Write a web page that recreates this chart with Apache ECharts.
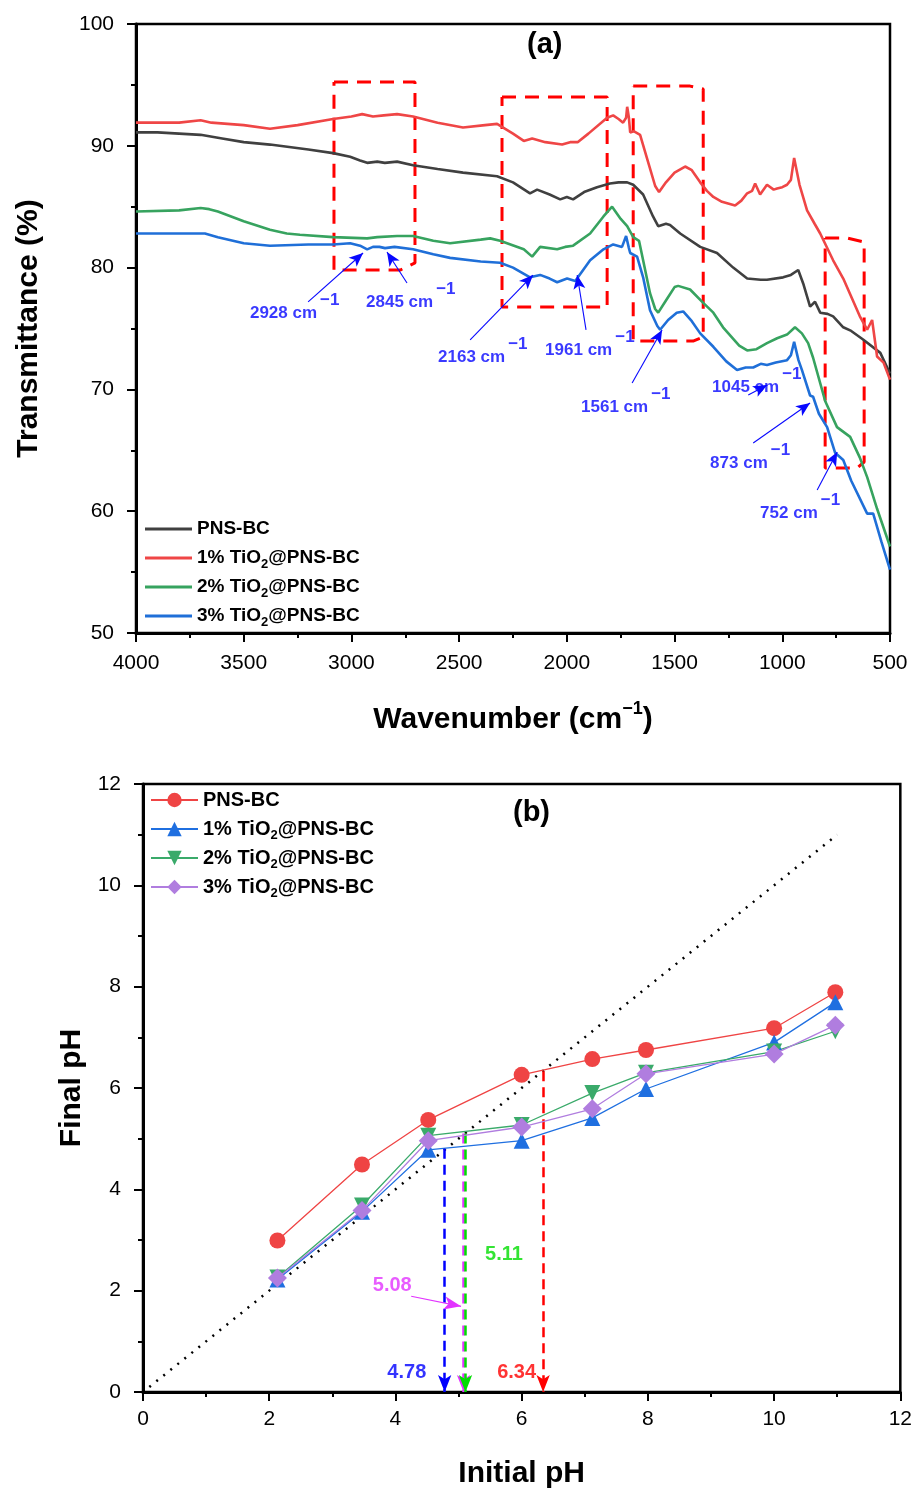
<!DOCTYPE html>
<html><head><meta charset="utf-8">
<script src="https://cdn.jsdelivr.net/npm/echarts@6/dist/echarts.min.js"></script>
<style>html,body{margin:0;padding:0;background:#fff}#c{width:915px;height:1490px}</style>
</head><body><div id="c"></div>
<script>
const FONT = "'Liberation Sans', Arial, Helvetica, sans-serif";

// ---------- DATA ----------
const seriesNames = ['PNS-BC', '1% TiO2@PNS-BC', '2% TiO2@PNS-BC', '3% TiO2@PNS-BC'];

// (a) FTIR spectra: [wavenumber (cm-1), transmittance (%)]
const ftirPNS = [[4000,91.1],[3900,91.1],[3800,91.0],[3700,90.9],[3600,90.6],[3500,90.3],[3378,90.1],[3200,89.7],[3085,89.4],[3006,89.1],[2960,88.8],[2927,88.6],[2880,88.7],[2845,88.6],[2788,88.7],[2714,88.4],[2600,88.1],[2482,87.8],[2324,87.5],[2250,87.0],[2171,86.1],[2138,86.4],[2080,86.0],[2031,85.6],[2000,85.8],[1971,85.6],[1920,86.2],[1860,86.6],[1800,86.9],[1760,87.0],[1720,87.0],[1692,86.8],[1646,86.0],[1600,84.2],[1576,83.4],[1540,83.6],[1521,83.5],[1474,82.8],[1381,81.7],[1303,81.2],[1228,80.0],[1163,79.1],[1100,79.0],[1071,79.0],[996,79.2],[960,79.4],[926,79.8],[903,78.7],[871,76.8],[848,77.2],[824,76.3],[790,76.2],[764,76.0],[717,75.1],[680,74.8],[625,74.1],[545,73.0],[500,71.3]];
const ftir1 = [[4000,91.9],[3800,91.9],[3700,92.1],[3650,91.9],[3500,91.7],[3378,91.4],[3250,91.7],[3085,92.2],[3000,92.4],[2950,92.6],[2900,92.4],[2850,92.5],[2788,92.6],[2714,92.4],[2600,91.9],[2482,91.5],[2380,91.7],[2324,91.8],[2250,91.0],[2200,90.4],[2161,90.6],[2100,90.3],[2022,90.1],[1985,90.3],[1950,90.3],[1900,91.0],[1813,92.3],[1785,92.5],[1760,92.2],[1739,91.9],[1725,92.3],[1720,93.2],[1712,92.3],[1706,91.1],[1690,91.2],[1660,90.9],[1620,88.5],[1590,86.7],[1572,86.2],[1540,87.0],[1500,87.8],[1451,88.3],[1420,88.0],[1381,87.0],[1350,86.3],[1320,85.8],[1280,85.4],[1219,85.1],[1190,85.5],[1163,86.1],[1140,86.3],[1126,86.9],[1103,86.0],[1071,86.8],[1040,86.4],[1024,86.5],[1000,86.6],[978,86.8],[960,87.2],[945,89.0],[920,86.8],[885,84.7],[850,83.6],[824,82.8],[764,80.6],[717,79.1],[640,76.0],[606,74.9],[583,75.7],[560,72.7],[530,72.2],[500,70.8]];
const ftir2 = [[4000,84.6],[3800,84.7],[3700,84.9],[3660,84.8],[3620,84.6],[3500,83.8],[3378,83.1],[3300,82.8],[3239,82.7],[3085,82.5],[2927,82.4],[2880,82.5],[2788,82.6],[2714,82.6],[2620,82.2],[2542,82.0],[2400,82.3],[2356,82.4],[2310,82.2],[2200,81.5],[2161,80.9],[2124,81.7],[2045,81.5],[2008,81.7],[1971,81.8],[1892,82.8],[1830,84.2],[1790,85.0],[1750,84.0],[1720,83.4],[1692,82.5],[1665,82.2],[1646,80.6],[1614,77.9],[1590,76.6],[1576,76.3],[1540,77.3],[1500,78.4],[1483,78.5],[1428,78.2],[1367,77.1],[1320,76.3],[1275,75.1],[1200,73.6],[1163,73.2],[1120,73.3],[1071,73.8],[1024,74.2],[978,74.5],[941,75.1],[909,74.6],[880,73.8],[857,72.6],[800,69.0],[746,66.9],[685,66.1],[640,64.4],[606,62.8],[560,60.2],[500,57.1]];
const ftir3 = [[4000,82.8],[3800,82.8],[3700,82.8],[3680,82.8],[3620,82.5],[3500,82.0],[3378,81.8],[3200,81.9],[3085,81.9],[3006,82.0],[2960,81.8],[2927,81.5],[2900,81.7],[2870,81.7],[2844,81.6],[2800,81.7],[2714,81.5],[2620,81.1],[2542,80.8],[2400,80.5],[2310,80.4],[2250,80.0],[2171,79.2],[2124,79.4],[2080,79.1],[2045,78.8],[1999,79.1],[1961,78.9],[1892,80.6],[1830,81.5],[1785,81.9],[1744,81.7],[1725,82.6],[1712,81.6],[1706,81.2],[1674,80.9],[1646,79.2],[1614,76.5],[1580,75.2],[1567,74.9],[1530,75.7],[1490,76.3],[1460,76.4],[1420,75.6],[1381,74.6],[1320,73.5],[1260,72.3],[1210,71.6],[1170,71.8],[1135,71.8],[1100,72.1],[1071,72.0],[1030,72.2],[978,72.4],[960,72.8],[945,73.9],[925,72.4],[909,71.6],[871,69.5],[857,69.4],[830,68.0],[792,66.9],[755,64.8],[717,64.2],[680,62.5],[606,59.8],[578,59.8],[540,57.5],[500,55.2]];

// (a) annotation boxes (dashed) in data coordinates
const ftirBoxes = [
  [[3081,95.24],[2705,95.24],[2705,80.38],[2774,79.8],[3081,79.8],[3081,95.24]],
  [[2301,94.0],[1813,94.0],[1813,76.77],[2301,76.77],[2301,94.0]],
  [[1692,94.9],[1428,94.9],[1367,94.66],[1367,74.3],[1414,73.97],[1692,73.97],[1692,94.9]],
  [[801,82.43],[699,82.43],[620,82.1],[620,64.04],[652,63.55],[801,63.55],[801,82.43]]
];
// (a) peak labels and arrows: [from wn, from T, to wn, to T]
const peakLabels = ['2928 cm', '2845 cm', '2163 cm', '1961 cm', '1561 cm', '1045 cm', '873 cm', '752 cm'];
const peakLabelAnchors = [[3471,76.27],[2932,77.18],[2598,72.66],[2101,73.23],[1934,68.56],[1326,70.2],[1335,63.96],[1103,59.85]];
const peakArrows = [[3201,77.18,2946,81.2],[2742,78.74,2835,81.28],[2449,74.06,2157,79.39],[1911,74.88,1952,79.39],[1697,70.53,1558,74.88],[1158,69.54,1070,70.36],[1135,65.6,871,68.88],[838,61.74,745,64.86]];

// (b) pH drift data
const initialPH = [2.13, 3.47, 4.52, 6.0, 7.12, 7.97, 10.0, 10.97];
const finalPNS  = [2.99, 4.49, 5.37, 6.26, 6.57, 6.75, 7.18, 7.89];
const final1    = [2.22, 3.56, 4.78, 4.96, 5.41, 5.98, 6.90, 7.69];
const final2    = [2.26, 3.68, 5.06, 5.27, 5.90, 6.30, 6.72, 7.12];
const final3    = [2.25, 3.58, 4.96, 5.23, 5.59, 6.28, 6.67, 7.24];
const identityLine = [[0.1, 0.1], [11, 11]];
const pzcValues = [4.78, 5.08, 5.11, 6.34];
const pzcTops   = [4.80, 5.10, 5.10, 6.33];
const pzcLabelText = ['4.78', '5.08', '5.11', '6.34'];
const pzcLabelAnchors = [[4.18,0.39],[3.95,2.10],[5.72,2.71],[5.92,0.39]];
const pzc508Arrow = [4.25, 1.89, 5.04, 1.69];

// ---------- STYLE ----------
const ftirColors = ['#404040', '#ef4646', '#37a35f', '#1f6fd8'];
const phColors = ['#ef4444', '#1f6fe0', '#3aaa6a', '#b07ddf'];
const pzcColors = ['#0000ff', '#e233ff', '#00dd00', '#ff0000'];
const phSymbols = ['circle', 'triangle', 'path://M0,0 L10,0 L5,9 Z', 'diamond'];
const phSymbolSizes = [16, 16, 16, 19];
const annBlue = '#0808ff';

const richName = n => n.replace('TiO2', 'TiO{sub|2}');

const axisCommon = (extra) => Object.assign({
  type: 'value',
  splitLine: { show: false },
  axisLine: { show: true, onZero: false, lineStyle: { color: '#000', width: 3 } },
  axisTick: { show: true, inside: false, length: 9, lineStyle: { color: '#000', width: 2 } },
  minorTick: { show: true, splitNumber: 2, length: 5, lineStyle: { color: '#000', width: 2 } },
  nameLocation: 'middle',
  nameTextStyle: { color: '#000', fontSize: 30, fontWeight: 'bold', fontFamily: FONT }
}, extra);
const tickLabel = (margin) => ({ color: '#000', fontSize: 21, fontFamily: FONT, margin: margin,
  showMinLabel: true, showMaxLabel: true, formatter: v => String(v) });

const series = [];
const ftirData = [ftirPNS, ftir1, ftir2, ftir3];
ftirData.forEach((d, i) => series.push({
  name: 'a:' + seriesNames[i], type: 'line', xAxisIndex: 0, yAxisIndex: 0,
  data: d, symbol: 'none', smooth: false,
  lineStyle: { color: ftirColors[i], width: 2.6 }, itemStyle: { color: ftirColors[i] }, z: 3
}));
ftirBoxes.forEach(b => series.push({
  type: 'line', xAxisIndex: 0, yAxisIndex: 0, data: b, symbol: 'none', silent: true,
  lineStyle: { color: '#ff0000', width: 3, type: [14, 9] }, z: 2
}));
series.push({
  type: 'scatter', xAxisIndex: 0, yAxisIndex: 0, symbolSize: 0, silent: true, z: 5,
  data: peakLabelAnchors.map((p, i) => [p[0], p[1], peakLabels[i]]),
  label: {
    show: true, position: 'right', distance: 0,
    formatter: p => '{a|' + p.data[2] + '}{s|−1}',
    rich: {
      a: { fontSize: 17, fontWeight: 'bold', color: annBlue, fontFamily: FONT, lineHeight: 42, verticalAlign: 'middle' },
      s: { fontSize: 17, fontWeight: 'bold', color: annBlue, fontFamily: FONT, verticalAlign: 'top', padding: [0, 0, 0, 3] }
    }
  },
  markLine: {
    silent: true, animation: false, symbol: ['none', 'arrow'], symbolSize: [9, 14],
    label: { show: false }, lineStyle: { color: annBlue, width: 1.1, type: 'solid' },
    data: peakArrows.map(a => [{ coord: [a[0], a[1]] }, { coord: [a[2], a[3]] }])
  }
});

// (b)
const phFinals = [finalPNS, final1, final2, final3];
phFinals.forEach((f, i) => series.push({
  name: 'b:' + seriesNames[i], type: 'line', xAxisIndex: 1, yAxisIndex: 1,
  data: initialPH.map((x, k) => [x, f[k]]),
  symbol: phSymbols[i], symbolSize: phSymbolSizes[i], showSymbol: true,
  lineStyle: { color: phColors[i], width: 1.3 }, itemStyle: { color: phColors[i] }, z: 4 + (i === 3 ? 1 : 0)
}));
series.push({
  type: 'line', xAxisIndex: 1, yAxisIndex: 1, data: identityLine, symbol: 'none', silent: true,
  lineStyle: { color: '#000', width: 2.5, type: [2, 7] }, z: 2
});
series.push({
  type: 'scatter', xAxisIndex: 1, yAxisIndex: 1, symbolSize: 0, silent: true, z: 6,
  data: pzcLabelAnchors.map((p, i) => ({ value: [p[0], p[1]], label: { color: pzcColors[i] }, name: pzcLabelText[i] })),
  label: { show: true, position: 'inside', formatter: p => p.name, fontSize: 20, fontWeight: 'bold', fontFamily: FONT },
  markLine: {
    silent: true, animation: false, symbol: ['none', 'arrow'], symbolSize: [10, 17],
    label: { show: false },
    data: pzcValues.map((v, i) => [
      { coord: [v, pzcTops[i]], lineStyle: { color: pzcColors[i], width: 2.5, type: [10, 6] } },
      { coord: [v, 0] }
    ]).concat([[
      { coord: [pzc508Arrow[0], pzc508Arrow[1]], lineStyle: { color: pzcColors[1], width: 1.2, type: 'solid' } },
      { coord: [pzc508Arrow[2], pzc508Arrow[3]] }
    ]])
  }
});

const legendText = { fontSize: 19, fontWeight: 'bold', color: '#000', fontFamily: FONT, lineHeight: 26,
  rich: { sub: { fontSize: 13, fontWeight: 'bold', color: '#000', fontFamily: FONT, verticalAlign: 'bottom' } } };

const option = {
  animation: false,
  backgroundColor: '#fff',
  grid: [
    { left: 136, top: 24, width: 754, height: 609, show: true, borderColor: '#000', borderWidth: 2.5, backgroundColor: 'transparent' },
    { left: 143, top: 784, width: 760, height: 610, show: true, borderColor: '#000', borderWidth: 2.5, backgroundColor: 'transparent' }
  ],
  xAxis: [
    axisCommon({ gridIndex: 0, min: 500, max: 4000, interval: 500, inverse: true,
      axisLabel: tickLabel(20),
      name: 'Wavenumber (cm{sup|−1})', nameGap: 67,
      nameTextStyle: { color: '#000', fontSize: 30, fontWeight: 'bold', fontFamily: FONT, lineHeight: 40,
        rich: { sup: { fontSize: 18, fontWeight: 'bold', color: '#000', fontFamily: FONT, verticalAlign: 'top' } } } }),
    axisCommon({ gridIndex: 1, min: 0, max: 12, interval: 2,
      axisLabel: tickLabel(17),
      name: 'Initial pH', nameGap: 67 })
  ],
  yAxis: [
    axisCommon({ gridIndex: 0, min: 50, max: 100, interval: 10,
      axisLabel: tickLabel(22),
      name: 'Transmittance (%)', nameGap: 92 }),
    axisCommon({ gridIndex: 1, min: 0, max: 12, interval: 2,
      axisLabel: tickLabel(22),
      name: 'Final pH', nameGap: 56 })
  ],
  legend: [
    { data: seriesNames.map(n => 'a:' + n), orient: 'vertical', left: 140, top: 511, itemWidth: 47, itemHeight: 3, itemGap: 3,
      icon: 'rect',
      formatter: n => richName(n.slice(2)), textStyle: legendText, selectedMode: false },
    { data: seriesNames.map(n => 'b:' + n), orient: 'vertical', left: 145, top: 782, itemWidth: 47, itemHeight: 18, itemGap: 3,
      formatter: n => richName(n.slice(2)), textStyle: Object.assign({}, legendText, { fontSize: 20 }), selectedMode: false }
  ],
  graphic: [
    { type: 'text', left: 527, top: 30, style: { text: '(a)', fontSize: 29, fontWeight: 'bold', fill: '#000', fontFamily: FONT } },
    { type: 'text', left: 513, top: 798, style: { text: '(b)', fontSize: 29, fontWeight: 'bold', fill: '#000', fontFamily: FONT } }
  ],
  series: series
};

const chart = echarts.init(document.getElementById('c'), null, { renderer: 'canvas' });
chart.setOption(option);
</script>
</body></html>
